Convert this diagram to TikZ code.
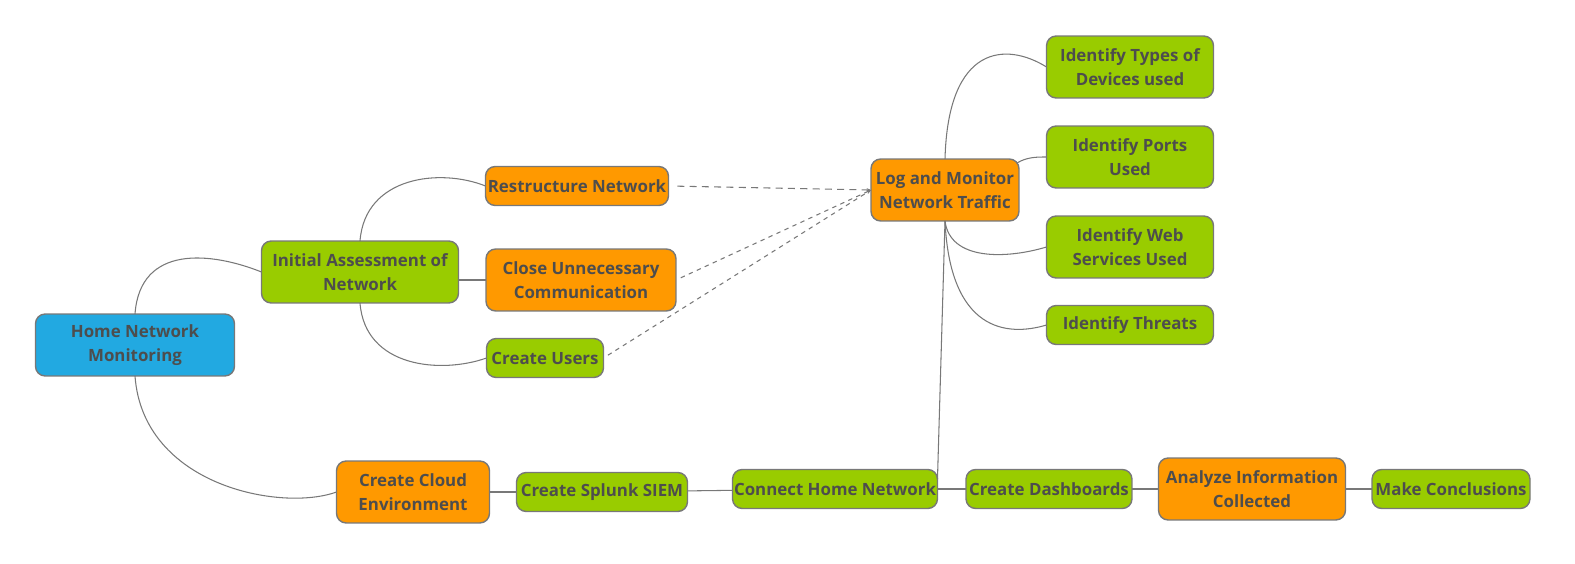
\documentclass[tikz,border=0pt]{standalone}
\usepackage{fontspec}
\setmainfont{Open Sans}
\usetikzlibrary{arrows.meta}
\definecolor{mapblue}{HTML}{22A9E1}
\definecolor{mapgreen}{HTML}{99CC00}
\definecolor{maporange}{HTML}{FF9900}
\definecolor{mapline}{HTML}{787878}
\definecolor{maptext}{HTML}{4D4D4D}
\begin{document}
\begin{tikzpicture}[x=0.02cm,y=-0.02cm,inner sep=0pt,outer sep=0pt,line width=0.6pt,
topic/.style={draw=mapline,rectangle,rounded corners=5.5pt,align=center,text=maptext,font=\fontsize{9.6}{13.6}\selectfont\bfseries,minimum height=1.24cm,line width=0.8pt},
subtopic/.style={topic,minimum height=0.78cm},
link/.style={draw=mapline},
relation/.style={draw=mapline,dash pattern=on 2.5pt off 2.5pt,shorten <=3pt,-{Stealth[length=2.5pt,width=2pt]}}]
\useasboundingbox (0,0) rectangle (1575,564);
% root and first branch
\draw (135,345) node[topic,fill=mapblue,minimum width=3.98cm] (home) {Home Network\\Monitoring};
\draw (360,272) node[topic,fill=mapgreen,minimum width=3.94cm] (initial) {Initial Assessment of\\Network};
\draw (577,186) node[subtopic,fill=maporange,minimum width=3.66cm] (restruct) {Restructure Network};
\draw (581,280) node[topic,fill=maporange,minimum width=3.8cm] (close) {Close Unnecessary\\Communication};
\draw (545,358) node[subtopic,fill=mapgreen,minimum width=2.34cm] (users) {Create Users};
% monitoring branch
\draw (945,190) node[topic,fill=maporange,minimum width=2.96cm] (log) {Log and Monitor\\Network Traffic};
\draw (1130,67) node[topic,fill=mapgreen,minimum width=3.34cm] (devices) {Identify Types of\\Devices used};
\draw (1130,157) node[topic,fill=mapgreen,minimum width=3.34cm] (ports) {Identify Ports\\Used};
\draw (1130,247) node[topic,fill=mapgreen,minimum width=3.34cm] (web) {Identify Web\\Services Used};
\draw (1130,325) node[subtopic,fill=mapgreen,minimum width=3.34cm] (threats) {Identify Threats};
% bottom chain
\draw (413,492) node[topic,fill=maporange,minimum width=3.06cm] (cloud) {Create Cloud\\Environment};
\draw (602,492) node[subtopic,fill=mapgreen,minimum width=3.42cm] (splunk) {Create Splunk SIEM};
\draw (835,489) node[subtopic,fill=mapgreen,minimum width=4.1cm] (connect) {Connect Home Network};
\draw (1049,489) node[subtopic,fill=mapgreen,minimum width=3.32cm] (dash) {Create Dashboards};
\draw (1252,489) node[topic,fill=maporange,minimum width=3.74cm] (analyze) {Analyze Information\\Collected};
\draw (1451,489) node[subtopic,fill=mapgreen,minimum width=3.16cm] (concl) {Make Conclusions};
% links
\draw[link] (home.north) .. controls +(5,-70) and +(-50,-20) .. (initial.west);
\draw[link] (home.south) .. controls +(8,110) and +(-55,20) .. (cloud.west);
\draw[link] (initial.north) .. controls +(5,-65) and +(-45,-18) .. (restruct.west);
\draw[link] (initial.east) ++(0,8) .. controls +(15,0) and +(-12,0) .. (close.west);
\draw[link] (initial.south) .. controls +(5,65) and +(-45,16) .. (users.west);
\draw[link] (log.north) .. controls +(3,-115) and +(-40,-25) .. (devices.west);
\draw[link] (log.north east) ++(-2,4) .. controls +(10,-6) and +(-10,0) .. (ports.west);
\draw[link] (log.south) .. controls +(5,40) and +(-40,12) .. (web.west);
\draw[link] (log.south) .. controls +(5,110) and +(-40,12) .. (threats.west);
\draw[link] (connect.east) ++(0,-10) -- (log.south);
\draw[link] (cloud) -- (splunk);
\draw[link] (splunk) -- (connect);
\draw[link] (connect) -- (dash);
\draw[link] (dash) -- (analyze);
\draw[link] (analyze) -- (concl);
% relations
\draw[relation,dash pattern=on 4pt off 3pt,shorten <=5pt] (restruct.east) -- (log.west);
\draw[relation] (close.east) -- (log.west);
\draw[relation] (users.east) -- (log.west);
\end{tikzpicture}
\end{document}
